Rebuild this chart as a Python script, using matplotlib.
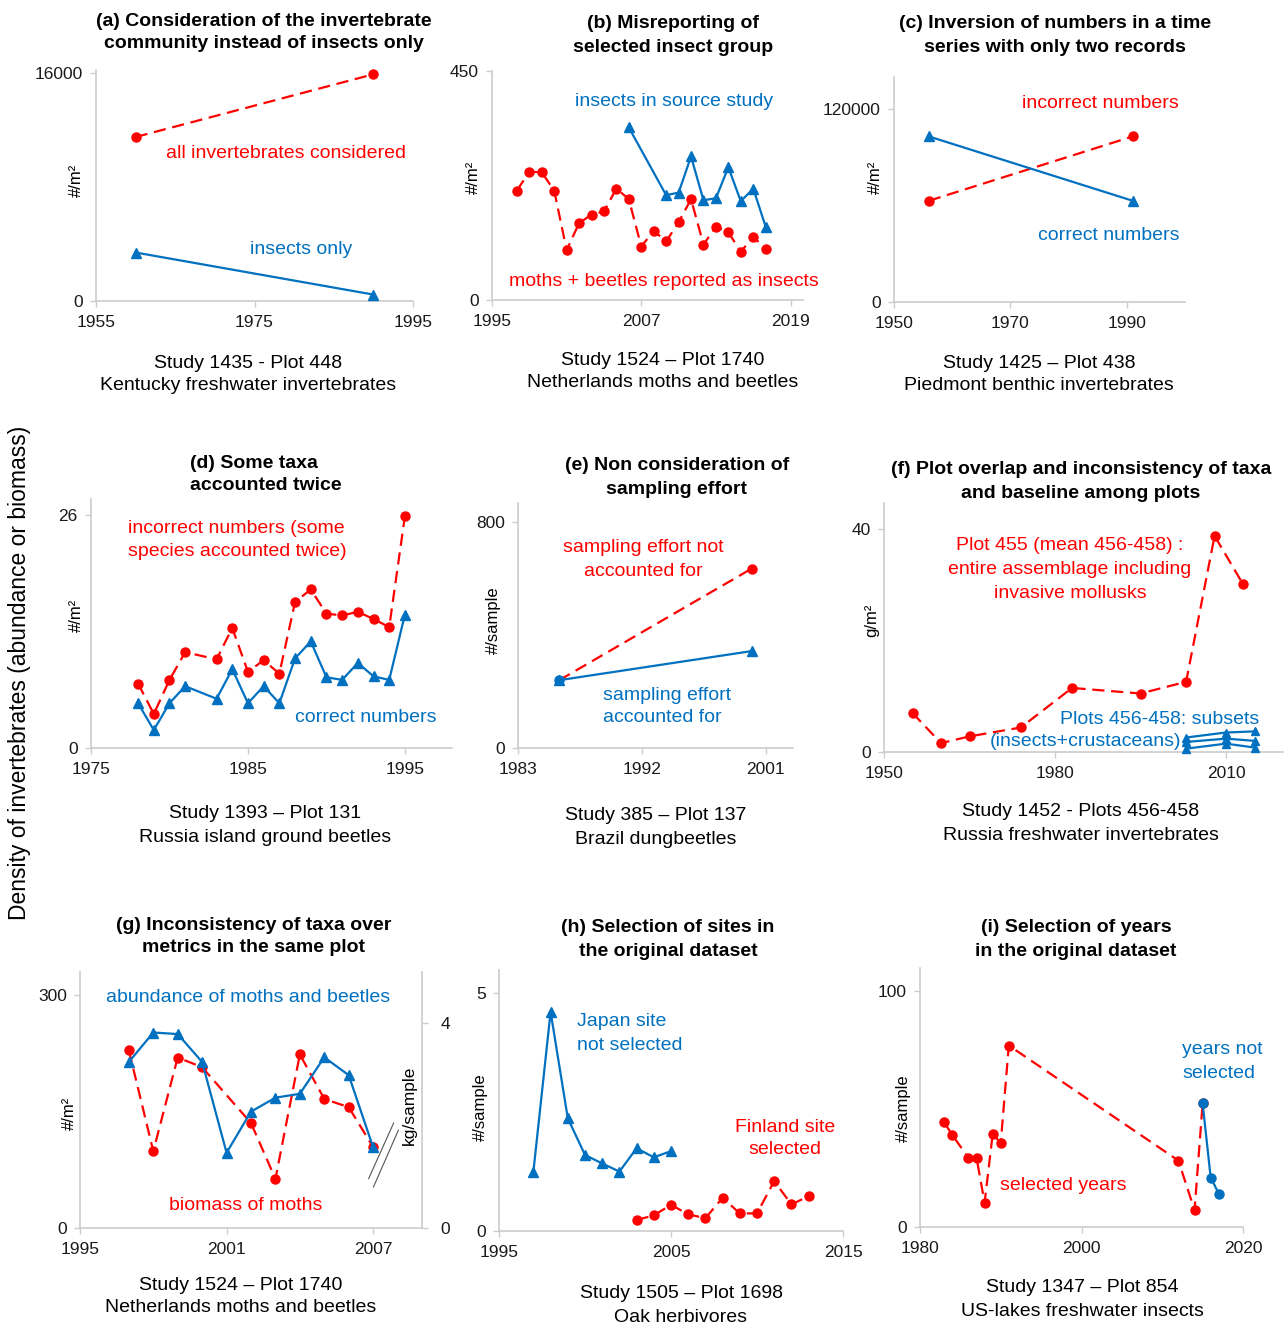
"""
Invertebrate density time series: nine example problems (a)-(i)
"""

import matplotlib
matplotlib.use('Agg')
import matplotlib.pyplot as plt
from matplotlib.lines import Line2D

# ---- data ----
a_years = [1960, 1990]
a_all = [11500, 15900]
a_insects = [3400, 450]

b_years_red = list(range(1997, 2018))
b_red = [215, 252, 251, 215, 98, 151, 168, 174, 219, 198, 105,
         136, 115, 153, 198, 109, 144, 133, 95, 124, 101]
b_years_blue = [2006, 2009, 2010, 2011, 2012, 2013, 2014, 2015, 2016, 2017]
b_blue = [339, 206, 211, 282, 196, 200, 261, 194, 219, 144]

c_years = [1956, 1991]
c_incorrect = [63000, 103000]
c_correct = [103000, 63000]

d_years = [1978, 1979, 1980, 1981, 1983, 1984, 1985, 1986, 1987,
           1988, 1989, 1990, 1991, 1992, 1993, 1994, 1995]
d_incorrect = [7.2, 3.8, 7.6, 10.7, 9.9, 13.4, 8.5, 9.8, 8.3,
               16.3, 17.7, 15.0, 14.8, 15.2, 14.4, 13.5, 25.9]
d_correct = [5.0, 2.0, 5.0, 6.9, 5.5, 8.8, 5.0, 6.9, 5.0,
             10.0, 11.9, 7.9, 7.6, 9.5, 8.0, 7.6, 14.9]

e_years = [1986, 2000]
e_not_accounted = [240, 635]
e_accounted = [240, 343]

f_years_red = [1955, 1960, 1965, 1974, 1983, 1995, 2003, 2008, 2013]
f_red = [7.0, 1.6, 2.8, 4.4, 11.5, 10.5, 12.6, 38.8, 30.1]
f_years_blue = [2003, 2010, 2015]
f_plot456 = [2.6, 3.5, 3.7]
f_plot457 = [1.8, 2.4, 2.0]
f_plot458 = [0.6, 1.5, 0.8]

g_years_abund = list(range(1997, 2008))
g_abund = [214, 252, 250, 214, 97, 150, 168, 173, 220, 197, 104]
g_years_bio = [1997, 1998, 1999, 2000, 2002, 2003, 2004, 2005, 2006, 2007]
g_bio = [3.47, 1.50, 3.33, 3.14, 2.05, 0.96, 3.39, 2.52, 2.36, 1.58]

h_years_japan = list(range(1997, 2006))
h_japan = [1.25, 4.61, 2.37, 1.60, 1.42, 1.25, 1.74, 1.55, 1.68]
h_years_fin = list(range(2003, 2014))
h_fin = [0.23, 0.33, 0.55, 0.35, 0.27, 0.70, 0.37, 0.37, 1.05, 0.56, 0.73]

i_years_sel = [1983, 1984, 1986, 1987, 1988, 1989, 1990, 1991, 2012, 2014, 2015]
i_sel = [44.3, 38.9, 29.3, 29.3, 10.3, 39.3, 35.6, 76.8, 28.1, 7.1, 52.3]
i_years_not = [2015, 2016, 2017]
i_not = [52.3, 20.9, 14.1]

# ---- style ----
RED = '#ff0000'
BLUE = '#0070c0'
SPINE = '#cccccc'
TXT = '#1a1a1a'
W, H = 1287, 1327

plt.rcParams['font.family'] = ['Liberation Sans', 'DejaVu Sans']

fig = plt.figure(figsize=(W / 100, H / 100), dpi=100)


def px_ax(l, t, r, b):
    """axes from pixel box (image coords, y down)"""
    return fig.add_axes([l / W, 1 - b / H, (r - l) / W, (b - t) / H])


def ftext(x, y, s, **kw):
    kw.setdefault('ha', 'center')
    kw.setdefault('va', 'center')
    kw.setdefault('fontsize', 14)
    return fig.text(x / W, 1 - y / H, s, **kw)


def lines(x, ys, texts, **kw):
    for y, s in zip(ys, texts):
        ftext(x, y, s, **kw)


def red_line(ax, x, y, **kw):
    kw.setdefault('ms', 6.5)
    ax.plot(x, y, color=RED, lw=1.6, ls=(0, (5.5, 3)), marker='o',
            clip_on=False, zorder=3, **kw)


def blue_line(ax, x, y, marker='^', **kw):
    kw.setdefault('ms', 6.5)
    kw.setdefault('lw', 1.6)
    ax.plot(x, y, color=BLUE, marker=marker, clip_on=False, zorder=4, **kw)


def style_ax(ax, xlim, xticks, ylim, yticks):
    ax.set_xlim(*xlim)
    ax.set_ylim(*ylim)
    ax.set_xticks(xticks)
    ax.set_yticks(yticks)
    for s in ['top', 'right']:
        ax.spines[s].set_visible(False)
    for s in ['left', 'bottom']:
        ax.spines[s].set_color(SPINE)
        ax.spines[s].set_linewidth(1.2)
    ax.tick_params(axis='x', length=4.5, width=1, color=SPINE, pad=5.5,
                   labelsize=12.5, labelcolor=TXT)
    ax.tick_params(axis='y', length=4.5, width=1, color=SPINE, pad=5,
                   labelsize=12.5, labelcolor=TXT)
    ax.patch.set_alpha(0)


# ---- (a) ----
ax = px_ax(96, 70, 413, 301)
red_line(ax, a_years, a_all)
blue_line(ax, a_years, a_insects)
style_ax(ax, (1955, 1995), [1955, 1975, 1995], (0, 16200), [0, 16000])
lines(264, [21, 44], ['(a) Consideration of the invertebrate',
                      'community instead of insects only'], fontweight='bold')
ftext(76, 180, '#/m²', rotation=90, fontsize=12)
ftext(286, 153, 'all invertebrates considered', color=RED)
ftext(301, 249, 'insects only', color=BLUE)
lines(248, [363, 386], ['Study 1435 - Plot 448', 'Kentucky freshwater invertebrates'])

# ---- (b) ----
ax = px_ax(492, 71, 803, 300)
red_line(ax, b_years_red, b_red)
blue_line(ax, b_years_blue, b_blue)
style_ax(ax, (1995, 2020), [1995, 2007, 2019], (0, 450), [0, 450])
lines(673, [23, 47], ['(b) Misreporting of', 'selected insect group'], fontweight='bold')
ftext(473, 177, '#/m²', rotation=90, fontsize=12)
ftext(674, 101, 'insects in source study', color=BLUE)
ftext(664, 281, 'moths + beetles reported as insects', color=RED)
lines(663, [360, 383], ['Study 1524 – Plot 1740', 'Netherlands moths and beetles'])

# ---- (c) ----
ax = px_ax(894, 77, 1185, 302)
red_line(ax, c_years, c_incorrect)
blue_line(ax, c_years, c_correct)
style_ax(ax, (1950, 2000), [1950, 1970, 1990], (0, 140000), [0, 120000])
lines(1055, [24, 48], ['(c) Inversion of numbers in a time',
                       'series with only two records'], fontweight='bold')
ftext(875, 177, '#/m²', rotation=90, fontsize=12)
ftext(1100, 104, 'incorrect numbers', color=RED)
ftext(1109, 235, 'correct numbers', color=BLUE)
lines(1039, [363, 385], ['Study 1425 – Plot 438', 'Piedmont benthic invertebrates'])

# ---- (d) ----
ax = px_ax(91, 499, 452, 748)
red_line(ax, d_years, d_incorrect)
blue_line(ax, d_years, d_correct)
style_ax(ax, (1975, 1998), [1975, 1985, 1995], (0, 27.8), [0, 26])
ftext(190, 463, '(d) Some taxa', fontweight='bold', ha='left')
ftext(190, 486, 'accounted twice', fontweight='bold', ha='left')
ftext(76, 615, '#/m²', rotation=90, fontsize=12)
ftext(128, 528, 'incorrect numbers (some', color=RED, ha='left')
ftext(128, 552, 'species accounted twice)', color=RED, ha='left')
ftext(366, 717, 'correct numbers', color=BLUE)
lines(265, [813, 837], ['Study 1393 – Plot 131', 'Russia island ground beetles'])

# ---- (e) ----
ax = px_ax(518, 503, 793, 748)
red_line(ax, e_years, e_not_accounted, markevery=[1])
blue_line(ax, e_years, e_accounted)
blue_line(ax, e_years[:1], e_accounted[:1], marker='o', ls='none')
style_ax(ax, (1983, 2003), [1983, 1992, 2001], (0, 867), [0, 800])
lines(677, [466, 490], ['(e) Non consideration of', 'sampling effort'], fontweight='bold')
ftext(493, 620, '#/sample', rotation=90, fontsize=12)
lines(643, [548, 571], ['sampling effort not', 'accounted for'], color=RED)
ftext(603, 695, 'sampling effort', color=BLUE, ha='left')
ftext(603, 718, 'accounted for', color=BLUE, ha='left')
lines(656, [816, 839], ['Study 385 – Plot 137', 'Brazil dungbeetles'])

# ---- (f) ----
ax = px_ax(884, 503, 1283, 752)
red_line(ax, f_years_red, f_red)
for series in [f_plot456, f_plot457, f_plot458]:
    blue_line(ax, f_years_blue, series, ms=6)
style_ax(ax, (1950, 2020), [1950, 1980, 2010], (0, 44.7), [0, 40])
lines(1081, [470, 493], ['(f) Plot overlap and inconsistency of taxa',
                         'and baseline among plots'], fontweight='bold')
ftext(872, 620, 'g/m²', rotation=90, fontsize=12)
lines(1070, [546, 570, 593], ['Plot 455 (mean 456-458) :',
                              'entire assemblage including',
                              'invasive mollusks'], color=RED)
ftext(1060, 720, 'Plots 456-458: subsets', color=BLUE, ha='left')
ftext(990, 742, '(insects+crustaceans)', color=BLUE, ha='left')
lines(1081, [811, 835], ['Study 1452 - Plots 456-458', 'Russia freshwater invertebrates'])

# ---- (g) ----
ax = px_ax(80, 972, 422, 1228)
blue_line(ax, g_years_abund, g_abund)
style_ax(ax, (1995, 2009), [1995, 2001, 2007], (0, 330), [0, 300])
ax2 = ax.twinx()
red_line(ax2, g_years_bio, g_bio)
ax2.set_ylim(0, 5.0)
ax2.set_yticks([0, 4])
for s in ['top', 'left', 'bottom']:
    ax2.spines[s].set_visible(False)
ax2.spines['right'].set_color(SPINE)
ax2.spines['right'].set_linewidth(1.2)
ax2.tick_params(axis='y', length=4.5, width=1, color=SPINE, pad=9,
                labelsize=12.5, labelcolor=TXT)
ax.set_zorder(ax2.get_zorder() + 1)
# axis break marks
for (x0, y0, x1, y1) in [(0.844, 0.193, 0.917, 0.410), (0.858, 0.160, 0.931, 0.382)]:
    ax.add_line(Line2D([x0, x1], [y0, y1], transform=ax.transAxes,
                       color='#555555', lw=0.8, clip_on=False))
lines(254, [925, 948], ['(g) Inconsistency of taxa over',
                        'metrics in the same plot'], fontweight='bold')
ftext(69, 1113, '#/m²', rotation=90, fontsize=12)
ftext(409, 1105, 'kg/sample', rotation=90, fontsize=12.5)
ftext(248, 997, 'abundance of moths and beetles', color=BLUE)
ftext(246, 1205, 'biomass of moths', color=RED)
lines(241, [1285, 1308], ['Study 1524 – Plot 1740', 'Netherlands moths and beetles'])

# ---- (h) ----
ax = px_ax(499, 970, 843, 1231)
blue_line(ax, h_years_japan, h_japan)
red_line(ax, h_years_fin, h_fin)
style_ax(ax, (1995, 2015), [1995, 2005, 2015], (0, 5.49), [0, 5])
lines(668, [928, 952], ['(h) Selection of sites in', 'the original dataset'], fontweight='bold')
ftext(480, 1107, '#/sample', rotation=90, fontsize=12)
ftext(577, 1022, 'Japan site', color=BLUE, ha='left')
ftext(577, 1046, 'not selected', color=BLUE, ha='left')
lines(785, [1127, 1150], ['Finland site', 'selected'], color=RED)
lines(681, [1293, 1317], ['Study 1505 – Plot 1698', 'Oak herbivores'])

# ---- (i) ----
ax = px_ax(920, 968, 1243, 1227)
red_line(ax, i_years_sel, i_sel)
blue_line(ax, i_years_not, i_not, marker='o')
style_ax(ax, (1980, 2020), [1980, 2000, 2020], (0, 109.6), [0, 100])
lines(1076, [928, 952], ['(i) Selection of years', 'in the original dataset'], fontweight='bold')
ftext(903, 1108, '#/sample', rotation=90, fontsize=12)
ftext(1182, 1050, 'years not', color=BLUE, ha='left')
ftext(1182, 1073, 'selected', color=BLUE, ha='left')
ftext(1063, 1185, 'selected years', color=RED)
lines(1082, [1287, 1312], ['Study 1347 – Plot 854', 'US-lakes freshwater insects'])

# shared y label
ftext(20, 673, 'Density of invertebrates (abundance or biomass)', rotation=90, fontsize=16.5)

fig.savefig('out.png', dpi=100)
plt.close(fig)
